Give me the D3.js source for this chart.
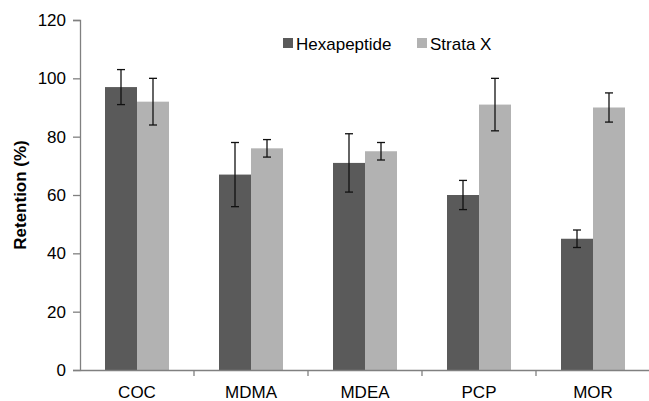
<!DOCTYPE html>
<html>
<head>
<meta charset="utf-8">
<script src="https://cdn.jsdelivr.net/npm/d3@7"></script>
<style>
  html, body { margin: 0; padding: 0; background: #fff; }
  svg { display: block; font-family: 'Liberation Sans', Arial, sans-serif; }
</style>
</head>
<body>
<svg id="chart" width="649" height="401"></svg>
<script>
// Data
const categories = ['COC', 'MDMA', 'MDEA', 'PCP', 'MOR'];
const seriesNames = ['Hexapeptide', 'Strata X'];
const hexapeptide = [97, 67, 71, 60, 45];
const hexapeptideErr = [6, 11, 10, 5, 3];
const strataX = [92, 76, 75, 91, 90];
const strataXErr = [8, 3, 3, 9, 5];
const yTicks = [0, 20, 40, 60, 80, 100, 120];

const colors = { 'Hexapeptide': '#5a5a5a', 'Strata X': '#b2b2b2' };

const rows = categories.map((c, i) => ({
  category: c,
  values: [
    { series: 'Hexapeptide', value: hexapeptide[i], err: hexapeptideErr[i] },
    { series: 'Strata X', value: strataX[i], err: strataXErr[i] },
  ],
}));

const svg = d3.select('#chart');
const plotLeft = 80, plotRight = 650, plotTop = 20, plotBottom = 370;
const fontFamily = "'Liberation Sans', Arial, sans-serif";

const x0 = d3.scaleBand().domain(categories).range([plotLeft, plotRight]);
const barW = 32;
const x1 = d3
  .scaleBand()
  .domain(seriesNames)
  .range([x0.bandwidth() / 2 - barW, x0.bandwidth() / 2 + barW]);
const y = d3.scaleLinear().domain([0, 120]).range([plotBottom, plotTop]);

// Bars
const groups = svg
  .selectAll('.group')
  .data(rows)
  .enter()
  .append('g')
  .attr('class', 'group')
  .attr('transform', d => `translate(${x0(d.category)},0)`);

groups
  .selectAll('rect')
  .data(d => d.values)
  .enter()
  .append('rect')
  .attr('x', d => x1(d.series))
  .attr('y', d => y(d.value))
  .attr('width', x1.bandwidth())
  .attr('height', d => y(0) - y(d.value))
  .attr('fill', d => colors[d.series]);

// Error bars
const errs = groups
  .selectAll('.err')
  .data(d => d.values)
  .enter()
  .append('g')
  .attr('class', 'err')
  .attr('stroke', '#111')
  .attr('stroke-width', 1.3);

errs
  .append('line')
  .attr('x1', d => x1(d.series) + x1.bandwidth() / 2)
  .attr('x2', d => x1(d.series) + x1.bandwidth() / 2)
  .attr('y1', d => y(d.value + d.err))
  .attr('y2', d => y(d.value - d.err));

[1, -1].forEach(s => {
  errs
    .append('line')
    .attr('x1', d => x1(d.series) + x1.bandwidth() / 2 - 4)
    .attr('x2', d => x1(d.series) + x1.bandwidth() / 2 + 4)
    .attr('y1', d => y(d.value + s * d.err))
    .attr('y2', d => y(d.value + s * d.err));
});

// Y axis
const yAxis = svg
  .append('g')
  .attr('transform', `translate(${plotLeft},0)`)
  .call(d3.axisLeft(y).tickValues(yTicks).tickSize(7).tickPadding(7));
yAxis.select('.domain').attr('stroke', '#808080').attr('stroke-width', 1.3);
yAxis.selectAll('.tick line').attr('stroke', '#808080').attr('stroke-width', 1.3);
yAxis
  .selectAll('.tick text')
  .attr('fill', '#000')
  .style('font-size', '17px')
  .style('font-family', fontFamily);

// X axis
const xAxis = svg
  .append('g')
  .attr('transform', `translate(0,${plotBottom})`)
  .call(d3.axisBottom(x0).tickSize(0).tickPadding(16).tickSizeOuter(0));
xAxis.select('.domain').attr('stroke', '#808080').attr('stroke-width', 1.3);
xAxis
  .selectAll('.tick text')
  .attr('fill', '#000')
  .style('font-size', '17px')
  .style('font-family', fontFamily);

// Boundary ticks between categories
xAxis
  .selectAll('.bound')
  .data(categories.slice(1))
  .enter()
  .append('line')
  .attr('class', 'bound')
  .attr('x1', d => x0(d))
  .attr('x2', d => x0(d))
  .attr('y1', 0)
  .attr('y2', 6)
  .attr('stroke', '#808080')
  .attr('stroke-width', 1.3);

// Y axis label
svg
  .append('text')
  .attr('transform', `translate(20,${(plotTop + plotBottom) / 2}) rotate(-90)`)
  .attr('text-anchor', 'middle')
  .attr('dy', '0.35em')
  .style('font-size', '17px')
  .style('font-weight', 'bold')
  .text('Retention (%)');

// Legend
const legendX = [283, 417];
const legend = svg
  .selectAll('.legend')
  .data(seriesNames)
  .enter()
  .append('g')
  .attr('class', 'legend')
  .attr('transform', (d, i) => `translate(${legendX[i]},38)`);

legend
  .append('rect')
  .attr('width', 10)
  .attr('height', 10)
  .attr('fill', d => colors[d]);

legend
  .append('text')
  .attr('x', 13)
  .attr('y', 11.5)
  .style('font-size', '17px')
  .text(d => d);
</script>
</body>
</html>
